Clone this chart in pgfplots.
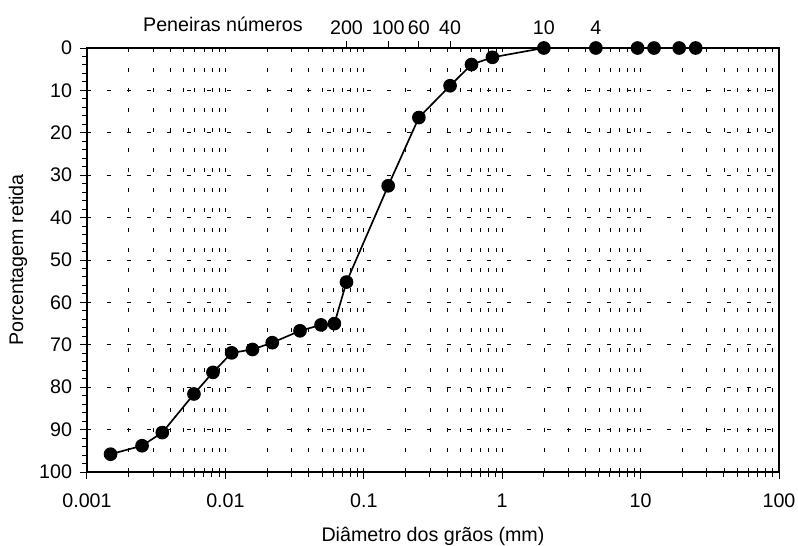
\documentclass[border=0pt]{standalone}
\usepackage{fontspec}
\setmainfont{Liberation Sans}
\usepackage{pgfplots}
\pgfplotsset{compat=1.18}

\begin{document}
\begin{tikzpicture}[font=\fontsize{11.8}{14}\selectfont]
\path[use as bounding box] (-52.2pt,-43.8pt) rectangle (426.6pt,283.2pt);
\begin{axis}[
    at={(0pt,0pt)}, anchor=south west,
    scale only axis,
    width=415.2pt, height=254.4pt,
    font=\fontsize{11.8}{14}\selectfont,
    xmode=log, xmin=0.001, xmax=100,
    ymin=0, ymax=100, y dir=reverse,
    xtick={0.001,0.01,0.1,1,10,100},
    xticklabels={0.001,0.01,0.1,1,10,100},
    ytick={0,10,...,100},
    minor y tick num=4,
    tick align=outside,
    major tick length=4pt, minor tick length=3pt,
    xtick pos=bottom, ytick pos=left,
    axis line style={line width=0.8pt},
    every tick/.style={black, line width=0.6pt},
    xmajorgrids, xminorgrids, ymajorgrids,
    grid style={black, line width=0.4pt, dash pattern=on 2.6pt off 9.4pt},
    /pgf/number format/assume math mode=true,
    xticklabel style={yshift=-5.5pt},
    yticklabel style={xshift=-1.5pt},
    xlabel={Diâmetro dos grãos (mm)},
    ylabel={Porcentagem retida},
    every axis x label/.style={at={(axis description cs:0.5,0)}, yshift=-38.5pt, anchor=center},
    every axis y label/.style={at={(axis description cs:0,0.5)}, xshift=-41.4pt, rotate=90, anchor=center},
    clip=false,
]
\addplot[black, line width=1pt, mark=*, mark size=3.6pt] coordinates {
    (0.00148, 95.8) (0.00250, 93.8) (0.0035, 90.7) (0.00593, 81.6)
    (0.00813, 76.5) (0.0111, 71.9) (0.0157, 71.1) (0.0218, 69.5)
    (0.0346, 66.7) (0.0491, 65.3) (0.0613, 65.0) (0.075, 55.2)
    (0.15, 32.5) (0.25, 16.4) (0.42, 8.9) (0.6, 3.9) (0.85, 2.2)
    (2.0, 0) (4.75, 0) (9.5, 0) (12.5, 0) (19, 0) (25, 0)
};
\node[anchor=base, inner sep=0pt, font=\fontsize{11.8}{14}\selectfont] at ([yshift=10.2pt]axis description cs:0.1965,1) {Peneiras números};
\end{axis}
% sieve numbers on top
\begin{axis}[
    at={(0pt,0pt)}, anchor=south west,
    scale only axis,
    width=415.2pt, height=254.4pt,
    font=\fontsize{11.8}{14}\selectfont,
    xmode=log, xmin=0.001, xmax=100,
    ymin=0, ymax=100,
    axis x line*=top, axis y line=none,
    axis line style={draw=none},
    xtick={0.075,0.15,0.25,0.42,2,4.75},
    xticklabels={200,100,60,40,10,4},
    minor xtick={},
    tick align=outside,
    major tick length=4pt,
    every tick/.style={black, line width=0.6pt},
    xticklabel style={yshift=0.5pt},
]
\end{axis}
\end{tikzpicture}
\end{document}
